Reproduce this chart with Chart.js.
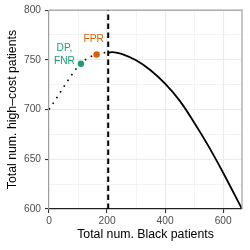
<!DOCTYPE html>
<html>
<head>
<meta charset="utf-8">
<script src="https://cdn.jsdelivr.net/npm/chart.js@4/dist/chart.umd.min.js"></script>
<style>
  html, body { margin: 0; padding: 0; background: #fff; }
  #wrap { width: 250px; height: 250px; }
</style>
</head>
<body>
<div id="wrap"><canvas id="chart" width="250" height="250"></canvas></div>
<script>
// ── Data ────────────────────────────────────────────────────────────────────

// solid frontier, right of the threshold
const frontierX = [205, 220, 250, 300, 350, 400, 450, 500, 550, 600, 665];
const frontierY = [757.2, 757.8, 756, 749.5, 739.5, 726, 709, 687, 663, 636.5, 600];

// dotted part, left of the threshold
const dottedX = [0, 25, 50, 75, 100, 125, 150, 175, 205];
const dottedY = [700, 711, 722.5, 733.5, 743, 750, 754, 756.5, 757.5];

// vertical dashed threshold
const thresholdX = 204;
const yRange = [600, 800];
const xRange = [0, 665];

// labelled points
const pointNames = ["DP,\nFNR", "FPR"];
const pointX = [110, 164];
const pointY = [746, 755.4];
const pointColors = ["#1b9e77", "#d95f02"];

const xTicks = [0, 200, 400, 600];
const yTicks = [600, 650, 700, 750, 800];

const FONT = "'Liberation Sans', Arial, Helvetica, sans-serif";

const toXY = (xs, ys) => xs.map((x, i) => ({ x, y: ys[i] }));

// ── Plugins ─────────────────────────────────────────────────────────────────

// grey panel border on top / right
const panelBorder = {
  id: "panelBorder",
  afterDraw(chart) {
    const { ctx, chartArea: a } = chart;
    ctx.save();
    ctx.strokeStyle = "#a0a0a0";
    ctx.lineWidth = 1.2;
    ctx.beginPath();
    ctx.moveTo(a.left, a.top);
    ctx.lineTo(a.right, a.top);
    ctx.lineTo(a.right, a.bottom);
    ctx.stroke();
    ctx.restore();
  }
};

// text labels next to the coloured points
const pointLabels = {
  id: "pointLabels",
  afterDatasetsDraw(chart) {
    const { ctx, scales } = chart;
    // pixel offsets of each label centre from its point
    const offsets = [[-16.5, -16], [-3, -15]];
    ctx.save();
    ctx.font = `10.2px ${FONT}`;
    ctx.textAlign = "center";
    ctx.textBaseline = "middle";
    pointNames.forEach((name, i) => {
      const px = scales.x.getPixelForValue(pointX[i]) + offsets[i][0];
      const py = scales.y.getPixelForValue(pointY[i]) + offsets[i][1];
      ctx.fillStyle = pointColors[i];
      name.split("\n").forEach((line, j) => ctx.fillText(line, px, py + j * 13.5));
    });
    ctx.restore();
  }
};

// ── Chart ───────────────────────────────────────────────────────────────────

const isMajor = (v, step) => Math.abs(v % step) < 1e-6;

new Chart(document.getElementById("chart"), {
  type: "scatter",
  data: {
    datasets: [
      {
        data: toXY(pointX, pointY),
        pointRadius: 3.2,
        pointHoverRadius: 3.2,
        pointBackgroundColor: pointColors,
        pointBorderWidth: 0,
        showLine: false,
      },
      {
        data: toXY(frontierX, frontierY),
        showLine: true,
        borderColor: "#000",
        borderWidth: 1.8,
        pointRadius: 0,
        tension: 0.4,
      },
      {
        data: toXY(dottedX, dottedY),
        showLine: true,
        borderColor: "#000",
        borderWidth: 1.6,
        borderDash: [1.6, 5.2],
        pointRadius: 0,
        cubicInterpolationMode: "monotone",
      },
      {
        data: [{ x: thresholdX, y: yRange[0] }, { x: thresholdX, y: yRange[1] }],
        showLine: true,
        borderColor: "#000",
        borderWidth: 2,
        borderDash: [5.5, 3.5],
        pointRadius: 0,
      },
    ]
  },
  options: {
    responsive: false,
    animation: false,
    events: [],
    layout: { padding: { top: 7, right: 8, left: 0, bottom: 0 } },
    plugins: { legend: { display: false }, tooltip: { enabled: false } },
    scales: {
      x: {
        type: "linear",
        min: xRange[0],
        max: xRange[1],
        afterFit: s => { s.height = 41; },
        border: { color: "#222", width: 1.2 },
        grid: {
          color: "#ebebeb",
          lineWidth: c => isMajor(c.tick.value, 200) ? 1.1 : 0.6,
          tickColor: c => isMajor(c.tick.value, 200) ? "#333" : "rgba(0,0,0,0)",
          tickLength: 4,
          tickWidth: 1.1,
        },
        ticks: {
          stepSize: 100,
          includeBounds: false,
          padding: 2,
          color: "#4d4d4d",
          font: { family: FONT, size: 10.2 },
          callback: v => xTicks.includes(v) ? String(v) : "",
          maxRotation: 0,
        },
        title: {
          display: true,
          text: "Total num. Black patients",
          color: "#000",
          font: { family: FONT, size: 12.3, lineHeight: 1 },
          padding: { top: 0, bottom: 9 },
        },
      },
      y: {
        type: "linear",
        min: yRange[0],
        max: yRange[1],
        afterFit: s => { s.width = 49; },
        border: { color: "#a0a0a0", width: 1.2 },
        grid: {
          color: "#ebebeb",
          lineWidth: c => isMajor(c.tick.value, 50) ? 1.1 : 0.6,
          tickColor: c => isMajor(c.tick.value, 50) ? "#333" : "rgba(0,0,0,0)",
          tickLength: 4,
          tickWidth: 1.1,
        },
        ticks: {
          stepSize: 25,
          padding: 4,
          color: "#4d4d4d",
          font: { family: FONT, size: 10.2 },
          callback: v => yTicks.includes(v) ? String(v) : "",
        },
        title: {
          display: true,
          text: "Total num. high–cost patients",
          color: "#000",
          font: { family: FONT, size: 12.3, lineHeight: 1 },
          padding: { top: 6, bottom: 0 },
        },
      },
    }
  },
  plugins: [panelBorder, pointLabels]
});
</script>
</body>
</html>
